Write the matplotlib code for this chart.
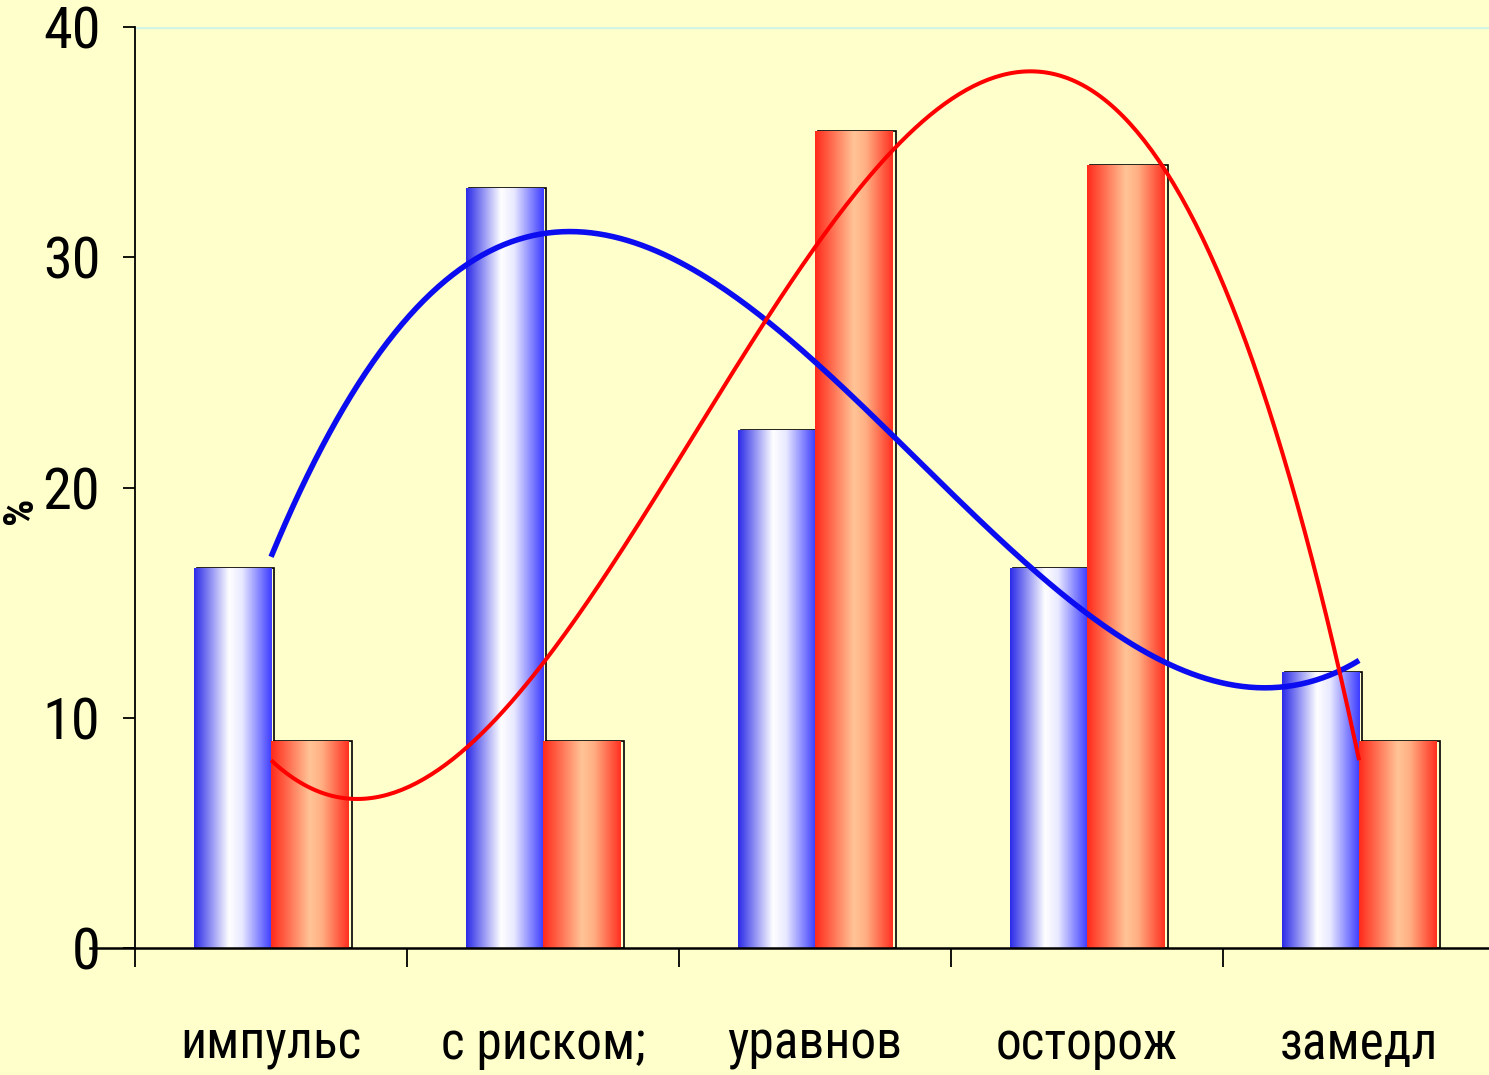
import numpy as np
import matplotlib
matplotlib.use("Agg")
import matplotlib.pyplot as plt
from matplotlib import font_manager
from matplotlib.colors import LinearSegmentedColormap

# data
categories = ["импульс", "с риском;", "уравнов", "осторож", "замедл"]
blue_values = [16.5, 33.0, 22.5, 16.5, 12.0]
red_values = [9.0, 9.0, 35.5, 34.0, 9.0]
y_ticks = [0, 10, 20, 30, 40]

BG = "#ffffcc"

# the original uses a narrow font; take the narrowest one that is installed
narrow = None
installed = {(f.name, f.stretch) for f in font_manager.fontManager.ttflist}
for name in ["Liberation Sans Narrow", "Roboto Condensed", "Open Sans Condensed"]:
    if any(n == name for n, _ in installed):
        narrow = dict(family=[name, "DejaVu Sans"])
        break
if narrow is None:
    narrow = dict(family=["DejaVu Sans"], stretch="condensed")

blue_cmap = LinearSegmentedColormap.from_list(
    "blue_bar", [(0.0, "#2a2ae8"), (0.45, "#ffffff"), (0.62, "#e8e8ff"), (1.0, "#3c3cff")])
red_cmap = LinearSegmentedColormap.from_list(
    "red_bar", [(0.0, "#ff2a1a"), (0.5, "#ffc496"), (0.65, "#ffb084"), (1.0, "#ff3020")])

fig = plt.figure(figsize=(14.89, 10.75), dpi=100, facecolor=BG)
ax = fig.add_axes([0.0907, 0.1181, 0.9134, 0.8567])
ax.set_facecolor(BG)

x = np.arange(len(categories))
width = 0.285


def gradient_bars(xpos, values, cmap):
    # thin black frame, shifted a little to the right
    ax.bar(xpos + 0.012, values, width, align="edge", facecolor="none",
           edgecolor="black", linewidth=1.2, zorder=2)
    bars = ax.bar(xpos, values, width, align="edge", color="none",
                  linewidth=0, zorder=3)
    grad = np.linspace(0, 1, 256).reshape(1, -1)
    for rect in bars:
        x0, y0 = rect.get_x(), rect.get_y()
        im = ax.imshow(grad, cmap=cmap, aspect="auto", interpolation="bicubic",
                       extent=[x0, x0 + rect.get_width(), y0, y0 + rect.get_height()],
                       zorder=3)
        im.set_clip_path(rect)


gradient_bars(x - width, blue_values, blue_cmap)
gradient_bars(x, red_values, red_cmap)

# cubic trendlines through each series
xs = np.linspace(0, len(categories) - 1, 300)
ax.plot(xs, np.polyval(np.polyfit(x, blue_values, 3), xs), color="#0c0cf0",
        lw=4.0, zorder=5, solid_capstyle="butt")
ax.plot(xs, np.polyval(np.polyfit(x, red_values, 3), xs), color="#ff0000",
        lw=2.9, zorder=6, solid_capstyle="butt")

ax.set_xlim(-0.5, len(categories) - 0.5)
ax.set_ylim(0, 40)

for side in ["top", "right", "bottom"]:
    ax.spines[side].set_visible(False)
ax.spines["left"].set_linewidth(1.3)
ax.axhline(40, color="#d4f4e4", lw=2.5, zorder=1)
# x axis line runs a bit past the y axis, as in the original
ax.plot([-0.665, len(categories) - 0.5], [0, 0], color="black", lw=1.8,
        clip_on=False, zorder=7)

ax.set_yticks(y_ticks)
ax.set_yticklabels([str(t) for t in y_ticks], fontsize=42, **narrow)
ax.tick_params(axis="y", length=9, width=1.3, pad=16)

ax.set_xticks(np.arange(-0.5, len(categories) + 0.5, 1.0))
ax.set_xticklabels([])
ax.tick_params(axis="x", which="major", length=14, width=1.3, direction="out")
ax.set_xticks(x, minor=True)
ax.set_xticklabels(categories, minor=True, fontsize=37, **narrow)
ax.tick_params(axis="x", which="minor", length=0, pad=52)

ax.set_ylabel("%", fontsize=31, fontweight="bold", **narrow)
ax.yaxis.set_label_coords(-0.069, 0.475)

fig.savefig("out.png", dpi=100, facecolor=BG)
